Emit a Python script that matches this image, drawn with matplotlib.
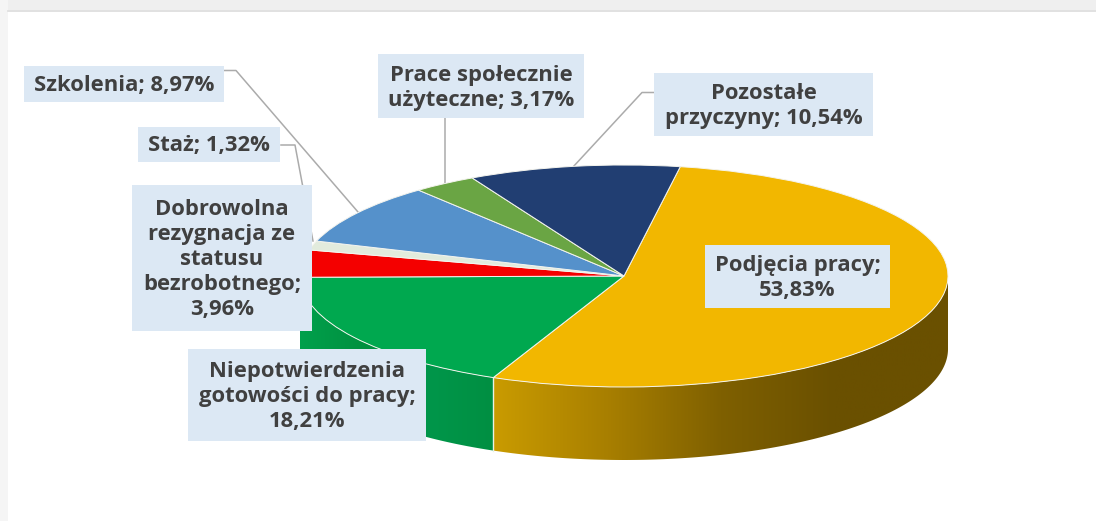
"""Recreate the 3D pie of reasons for leaving the unemployment register."""

from __future__ import annotations

import matplotlib
matplotlib.use("Agg")
import matplotlib.pyplot as plt
import numpy as np
from matplotlib.colors import LinearSegmentedColormap
from matplotlib.patches import Polygon, Rectangle

plt.rcParams["font.family"] = ["Open Sans", "DejaVu Sans"]

WIDTH, HEIGHT = 1096, 521

values = [53.83, 18.21, 3.96, 1.32, 8.97, 3.17, 10.54]
labels = [
    "Podjęcia pracy;\n53,83%",
    "Niepotwierdzenia\ngotowości do pracy;\n18,21%",
    "Dobrowolna\nrezygnacja ze\nstatusu\nbezrobotnego;\n3,96%",
    "Staż; 1,32%",
    "Szkolenia; 8,97%",
    "Prace społecznie\nużyteczne; 3,17%",
    "Pozostałe\nprzyczyny; 10,54%",
]
colors = ["#F2B700", "#00A84F", "#F40000", "#E2EBDD", "#5591CB", "#6AA544", "#213E72"]

START_ANGLE = 80.0
CX, CY = 624.0, 276.0
RX, RY = 324.0, 111.0
DEPTH = 73.0

# label boxes in pixels: left, top, right, bottom
boxes = [
    (705, 245, 890, 308),
    (188, 349, 426, 441),
    (132, 185, 312, 331),
    (138, 127, 280, 162),
    (24, 66, 224, 102),
    (378, 54, 584, 118),
    (654, 73, 873, 136),
]
leaders = [
    [(224, 70.5), (236, 70.5), (358, 212)],
    [(281, 145), (295, 145), (313, 241)],
    [(445, 118), (445, 183)],
    [(654, 92.5), (642, 92.5), (573, 167)],
]


def px(x, y):
    return (np.asarray(x, dtype=float) - CX) / RX, (CY - np.asarray(y, dtype=float)) / RY


def draw_wall(ax, angle_from, angle_to, gradient, x_range):
    theta = np.radians(np.linspace(angle_from, angle_to, 160))
    xs, ys = np.cos(theta), np.sin(theta)
    drop = DEPTH / RY
    verts = np.vstack([np.column_stack([xs, ys]), np.column_stack([xs[::-1], ys[::-1] - drop])])
    patch = Polygon(verts, closed=True, facecolor="none", edgecolor="none", zorder=1)
    ax.add_patch(patch)
    cmap = LinearSegmentedColormap.from_list("wall", gradient)
    x0, _ = px(x_range[0], 0)
    x1, _ = px(x_range[1], 0)
    image = ax.imshow(
        np.linspace(0, 1, 256).reshape(1, -1),
        cmap=cmap,
        extent=(x0, x1, -2.0, 1.0),
        aspect="auto",
        zorder=1,
    )
    image.set_clip_path(patch)


def main() -> None:
    fig = plt.figure(figsize=(WIDTH / 100, HEIGHT / 100), dpi=100, facecolor="white")
    ax = fig.add_axes([0, 0, 1, 1])

    ax.pie(
        values,
        colors=colors,
        startangle=START_ANGLE,
        counterclock=False,
        radius=1,
        wedgeprops={"edgecolor": "#F4F4EE", "linewidth": 0.7, "zorder": 2},
    )

    # front walls, only the slices that reach the lower half show one
    gold_end = START_ANGLE - values[0] * 3.6
    draw_wall(ax, 0, gold_end, ["#C99B00", "#A87F00", "#7F6000", "#6A5000", "#6A5000"], (494, 948))
    draw_wall(ax, gold_end, -180, ["#00A04C", "#00903F", "#00964A", "#008F42"], (300, 494))
    sep_x = np.cos(np.radians(gold_end))
    sep_y = np.sin(np.radians(gold_end))
    ax.plot([sep_x, sep_x], [sep_y, sep_y - DEPTH / RY], color="#E6F2E6", linewidth=1.0, zorder=3)

    # page background
    x0, y0 = px(0, 0)
    x1, y1 = px(WIDTH, 10)
    ax.add_patch(Rectangle((x0, y1), x1 - x0, y0 - y1, facecolor="#EFEFEF", edgecolor="none", zorder=0))
    x2, y2 = px(8, HEIGHT)
    ax.add_patch(Rectangle((x0, y2), x2 - x0, y0 - y2, facecolor="#F5F5F5", edgecolor="none", zorder=0))
    ax.plot(*px([8, WIDTH], [10.5, 10.5]), color="#DCDCDC", linewidth=1.2, zorder=0.5)

    for points in leaders:
        xs, ys = zip(*points)
        ax.plot(*px(xs, ys), color="#ABABAB", linewidth=1.1, zorder=1.5)

    for label, (left, top, right, bottom) in zip(labels, boxes):
        bx0, by1 = px(left, bottom)
        bx1, by0 = px(right, top)
        ax.add_patch(Rectangle((bx0, by1), bx1 - bx0, by0 - by1, facecolor="#DCE8F4", edgecolor="none", zorder=4))
        tx, ty = px((left + right) / 2, (top + bottom) / 2 + 1.5)
        ax.text(
            tx, ty, label, ha="center", va="center", ma="center", fontsize=15.8, fontweight="bold",
            color="#404040", linespacing=1.25, zorder=5,
        )

    left, top = px(0, 0)
    right, bottom = px(WIDTH, HEIGHT)
    ax.set_aspect("auto")
    ax.set_xlim(left, right)
    ax.set_ylim(bottom, top)
    ax.axis("off")

    fig.savefig("out.png", dpi=100, facecolor="white")
    plt.close(fig)


if __name__ == "__main__":
    main()
